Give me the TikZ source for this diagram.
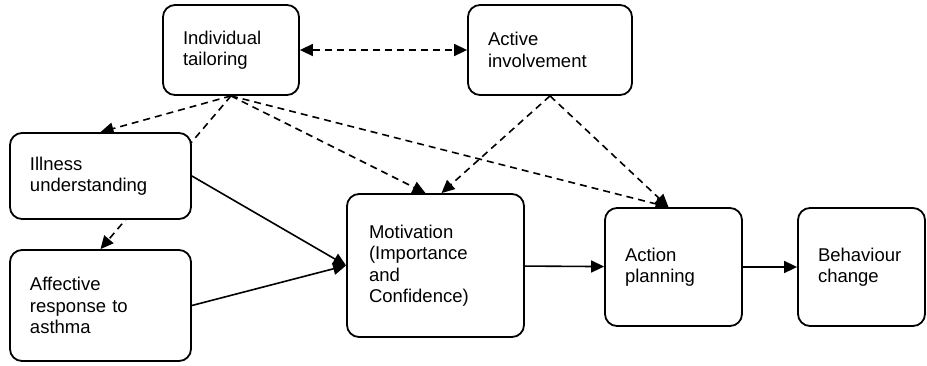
\documentclass[tikz,border=0pt]{standalone}
\usepackage{fontspec}
\setmainfont{Liberation Sans}
\usetikzlibrary{arrows.meta,backgrounds}

\begin{document}
\begin{tikzpicture}[x=1pt, y=-1pt,
    box/.style={draw, line width=1.8pt, rounded corners=12pt, fill=white, align=left,
      inner xsep=20pt, inner ysep=0pt, font=\fontsize{18.5}{21.5}\selectfont},
    link/.style={line width=1.6pt, -{Triangle[length=13pt,width=12pt]}},
    maybe/.style={link, dash pattern=on 7pt off 5pt}]
    \useasboundingbox (0,0) rectangle (927,365);
    \path (231,50) node[box, text width=96pt, minimum width=136pt, minimum height=90pt](tail){Individual\\tailoring}
        (550,50) node[box, text width=124pt, minimum width=164pt, minimum height=90pt](inv){Active\\involvement}
        (100.5,176) node[box, text width=141pt, minimum width=181pt, minimum height=86pt](ill){Illness\\understanding}
        (100.5,305.5) node[box, text width=141pt, minimum width=181pt, minimum height=111pt](aff){Affective\\response to\\asthma}
        (435.5,265.5) node[box, inner xsep=22pt, text width=133pt, minimum width=177pt, minimum height=143pt](mot){Motivation\\(Importance\\and\\Confidence)}
        (673.5,267) node[box, text width=97pt, minimum width=137pt, minimum height=118pt](act){Action\\planning}
        (861.5,267) node[box, text width=87pt, minimum width=127pt, minimum height=118pt](beh){Behaviour\\change};
    \begin{pgfonlayer}{background}
    \draw[maybe, {Triangle[length=13pt,width=12pt]}-{Triangle[length=13pt,width=12pt]}] (tail) -- (inv);
    \draw[maybe] (tail.south) -- (ill.north);
    \draw[maybe] (tail.south) -- (aff.north);
    \draw[maybe] (tail.south) -- ([xshift=-10pt]mot.north);
    \draw[maybe] (tail.south) -- ([xshift=-5pt]act.north);
    \draw[maybe] (inv.south) -- ([xshift=6pt]mot.north);
    \draw[maybe] (inv.south) -- ([xshift=-5pt]act.north);
    \end{pgfonlayer}
    \draw[link] (ill.east) -- (mot.west);
    \draw[link] (aff.east) -- (mot.west);
    \draw[link] (mot) -- (act);
    \draw[link] (act) -- (beh);
\end{tikzpicture}
\end{document}
